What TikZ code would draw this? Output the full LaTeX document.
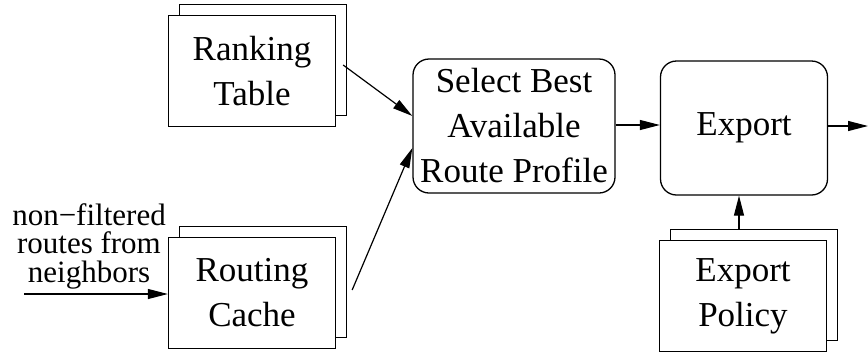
\documentclass[tikz,border=0pt]{standalone}
\usepackage{fontspec}
\setmainfont{Liberation Serif}
\usepackage{tikz}
\usetikzlibrary{shapes,arrows.meta,positioning,calc,shadows}
\tikzstyle{table} = [rectangle, draw=black, fill=white, line width=1.3pt, minimum width=167pt, minimum height=111pt, align=center, copy shadow={shadow xshift=11pt, shadow yshift=11pt}]
\tikzstyle{process} = [rectangle, rounded corners=16pt, draw=black, line width=1.3pt, minimum height=134pt, align=center]
\tikzstyle{arrow} = [line width=1.2pt, -{Triangle[length=20pt,width=10pt]}]

\begin{document}
\begin{tikzpicture}[x=1pt, y=-1pt, font=\fontsize{35}{45}\selectfont]
\useasboundingbox (0,0) rectangle (868,354);

% Tables
\node (ranking) [table] at (252,71) {Ranking\\Table};
\node (cache) [table] at (252,293) {Routing\\Cache};
\node (policy) [table] at (743,296) {Export\\Policy};

% Traitements
\node (select) [process, minimum width=202pt, inner sep=0pt] at (514,126) {Select Best\\Available\\Route Profile};
\node (export) [process, minimum width=167pt] at (744,128) {Export};

% Entree / sortie
\node (input) [align=center, font=\fontsize{31}{28.5}\selectfont] at (89,246) {non−filtered\\routes from\\neighbors};
\coordinate (in) at (24,294);
\coordinate (out) at (868,126);

% Relations
\draw [arrow] (in) -- (cache.west |- in);
\draw [arrow] ($(ranking.east)+(7,-6)$) -- ($(select.west)+(0,-10)$);
\draw [arrow] ($(cache.east)+(16,-3)$) -- ($(select.west)+(0,22)$);
\draw [arrow] (select.east |- 0,125) -- (export.west |- 0,125);
\draw [arrow] (export.east |- out) -- (out);
\draw [arrow] (policy.north -| 739,0) ++(0,-11) -- (export.south -| 739,0);

\end{tikzpicture}
\end{document}
